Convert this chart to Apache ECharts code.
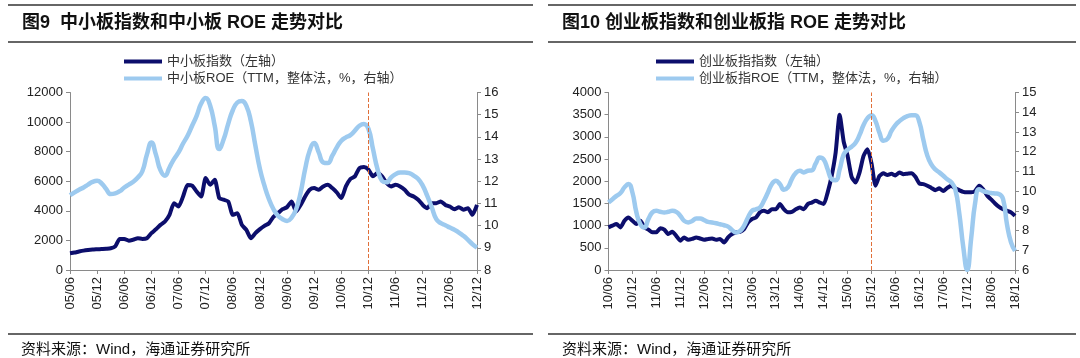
<!DOCTYPE html>
<html><head><meta charset="utf-8">
<script src="https://cdn.jsdelivr.net/npm/echarts@6/dist/echarts.min.js"></script>
<style>html,body{margin:0;padding:0;background:#fff}#c{width:1080px;height:358px}</style>
</head><body><div id="c"></div>
<script>
// ---------- DATA ----------
// Chart 1: SME board (monthly, 2005/06 .. 2012/12)
const smeStart = [2005, 6];
const smeIndex = [
  1130,1180,1250,1310,1350,1380,1400,1420,1440,1470,
  1600,2100,2100,1980,2050,2150,2100,2150,2490,2750,
  3050,3280,3730,4520,4290,4970,5750,5700,5310,4970,
  6220,5760,6100,4860,4750,4630,3730,3840,3050,2710,
  2150,2490,2760,2980,3160,3600,3840,4110,4250,4630,
  3950,4400,4970,5420,5540,5420,5650,5760,5540,5240,
  4860,5650,6150,6330,6890,6960,6780,6330,6550,6330,
  5880,5650,5760,5650,5420,5090,4970,4750,4400,4180,
  4520,4520,4630,4400,4290,4110,4250,4070,4180,3730,
  4400
];
const smeRoe = [
  11.37,11.5,11.62,11.72,11.85,11.97,12.02,11.9,11.65,11.42,
  11.45,11.55,11.72,11.85,11.98,12.17,12.45,13.2,13.75,13.2,
  12.5,12.25,12.62,13.0,13.3,13.7,14.05,14.5,14.95,15.5,
  15.75,15.4,14.5,13.45,13.9,14.6,15.2,15.55,15.62,15.4,
  14.7,13.6,12.55,11.8,11.19,10.74,10.44,10.29,10.21,10.36,
  10.74,11.49,12.55,13.38,13.72,13.3,12.85,12.82,13.15,13.53,
  13.83,13.98,14.08,14.28,14.5,14.58,14.36,13.45,12.55,12.02,
  11.95,12.17,12.32,12.4,12.4,12.37,12.25,12.1,11.8,11.34,
  10.82,10.29,10.11,10.02,9.91,9.81,9.69,9.54,9.36,9.16,
  9.01
];
// Chart 2: ChiNext (monthly, 2010/06 .. 2018/12)
const cnStart = [2010, 6];
const cnIndex = [
  960,1000,1035,960,1110,1185,1110,1035,1110,960,
  910,850,850,940,910,810,860,770,660,735,
  680,700,735,710,680,700,710,680,700,620,
  735,810,850,860,920,1070,1150,1185,1300,1335,
  1300,1370,1370,1485,1370,1300,1310,1370,1410,1370,
  1485,1520,1560,1520,1485,1750,2120,2650,3500,2900,
  2570,2100,1970,2200,2570,2720,2400,1900,2120,2180,
  2140,2170,2130,2200,2160,2170,2180,2100,1950,1935,
  1900,1850,1800,1840,1780,1850,1900,1840,1800,1760,
  1750,1750,1780,1900,1820,1680,1590,1500,1420,1370,
  1335,1300,1220
];
const cnRoe = [
  9.42,9.59,9.76,9.9,10.19,10.36,9.93,8.92,8.32,8.15,
  8.58,8.92,9.0,8.95,8.92,8.95,9.0,8.95,8.75,8.49,
  8.41,8.49,8.61,8.61,8.53,8.44,8.41,8.37,8.32,8.27,
  8.2,8.03,7.9,7.98,8.24,8.66,9.0,9.08,9.17,9.51,
  9.93,10.36,10.53,10.36,10.07,10.19,10.61,10.92,11.03,10.95,
  11.03,11.05,11.4,11.7,11.6,11.1,10.6,10.55,11.1,11.85,
  12.1,12.25,12.45,12.85,13.35,13.7,13.85,13.55,12.95,12.55,
  12.65,13.05,13.35,13.55,13.7,13.8,13.85,13.85,13.5,12.6,
  11.8,11.35,11.1,10.95,10.78,10.6,10.45,10.1,8.9,7.2,
  6.0,7.6,9.4,10.1,10.0,9.95,9.9,9.88,9.85,9.6,
  8.3,7.4,6.97
];
const smeMarker = '10/12';
const cnMarker = '15/12';
const titles = ['图9  中小板指数和中小板 ROE 走势对比', '图10 创业板指数和创业板指 ROE 走势对比'];
const names1 = ['中小板指数（左轴）', '中小板ROE（TTM，整体法，%，右轴）'];
const names2 = ['创业板指指数（左轴）', '创业板指ROE（TTM，整体法，%，右轴）'];
const sourceText = '资料来源：Wind，海通证券研究所';

// ---------- BUILD ----------
function monthLabels(start, n) {
  const out = [];
  for (let i = 0; i < n; i++) {
    const t = start[1] - 1 + i;
    const y = start[0] + Math.floor(t / 12), m = t % 12 + 1;
    out.push(String(y % 100).padStart(2, '0') + '/' + String(m).padStart(2, '0'));
  }
  return out;
}
const smeCats = monthLabels(smeStart, smeIndex.length);
const cnCats = monthLabels(cnStart, cnIndex.length);

const FONT = '"Liberation Sans", Arial, "Noto Sans CJK SC", sans-serif';
const NAVY = '#0c0e6c';
const LIGHT = '#9dcaef';
const AXIS = '#8a8a8a';

function xAxisCfg(gi, cats) {
  return {
    type: 'category', gridIndex: gi, data: cats, boundaryGap: false,
    axisLine: { lineStyle: { color: AXIS, width: 1 } },
    axisTick: { show: true, length: 4, interval: (i) => i % 6 === 0, lineStyle: { color: AXIS } },
    axisLabel: { interval: (i) => i % 6 === 0, rotate: 90, fontSize: 13, color: '#222', fontFamily: FONT, margin: 7 },
    splitLine: { show: false }
  };
}
function yAxisCfg(gi, pos, min, max, interval) {
  return {
    type: 'value', gridIndex: gi, position: pos, min: min, max: max, interval: interval,
    axisLine: { show: true, lineStyle: { color: AXIS } },
    axisTick: { show: true, length: 4, lineStyle: { color: AXIS } },
    axisLabel: { fontSize: 13, color: '#222', fontFamily: FONT, margin: 7, formatter: (v) => String(v) },
    splitLine: { show: false }
  };
}
function mark(cat) {
  return {
    silent: true, symbol: ['none', 'none'], label: { show: false },
    lineStyle: { type: 'dashed', color: '#e0703a', width: 1 },
    data: [{ xAxis: cat }]
  };
}
function idxSeries(name, xi, yi, data, cat) {
  return { name: name, type: 'line', xAxisIndex: xi, yAxisIndex: yi, data: data,
    symbol: 'none', smooth: 0.2, lineStyle: { width: 4, color: NAVY }, itemStyle: { color: NAVY },
    markLine: mark(cat) };
}
function roeSeries(name, xi, yi, data) {
  return { name: name, type: 'line', xAxisIndex: xi, yAxisIndex: yi, data: data,
    symbol: 'none', smooth: 0.5, lineStyle: { width: 4.5, color: LIGHT }, itemStyle: { color: LIGHT } };
}
function legendCfg(left, names) {
  return {
    left: left, top: 55, orient: 'vertical', icon: 'rect', itemWidth: 38, itemHeight: 4, itemGap: 4,
    padding: 0, selectedMode: false, data: names,
    textStyle: { fontSize: 13, color: '#333', fontFamily: FONT, lineHeight: 13 }
  };
}
function hline(x1, x2, y) {
  return { type: 'line', shape: { x1: x1, y1: y, x2: x2, y2: y }, style: { stroke: '#666', lineWidth: 2 }, silent: true };
}
function txt(x, y, text, font) {
  return { type: 'text', x: x, y: y, silent: true,
    style: { text: text, font: font, fill: '#111', verticalAlign: 'middle', align: 'left' } };
}

const option = {
  animation: false,
  backgroundColor: '#fff',
  grid: [
    { left: 70, top: 92.5, width: 407, height: 177.5, containLabel: false },
    { left: 608.5, top: 92.5, width: 406.5, height: 177.5, containLabel: false }
  ],
  legend: [legendCfg(124, names1), legendCfg(656, names2)],
  xAxis: [xAxisCfg(0, smeCats), xAxisCfg(1, cnCats)],
  yAxis: [
    yAxisCfg(0, 'left', 0, 12000, 2000),
    yAxisCfg(0, 'right', 8, 16, 1),
    yAxisCfg(1, 'left', 0, 4000, 500),
    yAxisCfg(1, 'right', 6, 15, 1)
  ],
  series: [
    idxSeries(names1[0], 0, 0, smeIndex, smeMarker),
    roeSeries(names1[1], 0, 1, smeRoe),
    idxSeries(names2[0], 1, 2, cnIndex, cnMarker),
    roeSeries(names2[1], 1, 3, cnRoe)
  ],
  graphic: [
    hline(8, 533, 5), hline(8, 533, 42), hline(8, 533, 334),
    hline(548, 1076, 5), hline(548, 1076, 42), hline(548, 1076, 334),
    txt(22, 23, titles[0], 'bold 18px ' + FONT),
    txt(562, 23, titles[1], 'bold 18px ' + FONT),
    txt(21, 350, sourceText, '15px ' + FONT),
    txt(562, 350, sourceText, '15px ' + FONT)
  ]
};
const chart = echarts.init(document.getElementById('c'), null, { renderer: 'canvas' });
chart.setOption(option);
</script></body></html>
